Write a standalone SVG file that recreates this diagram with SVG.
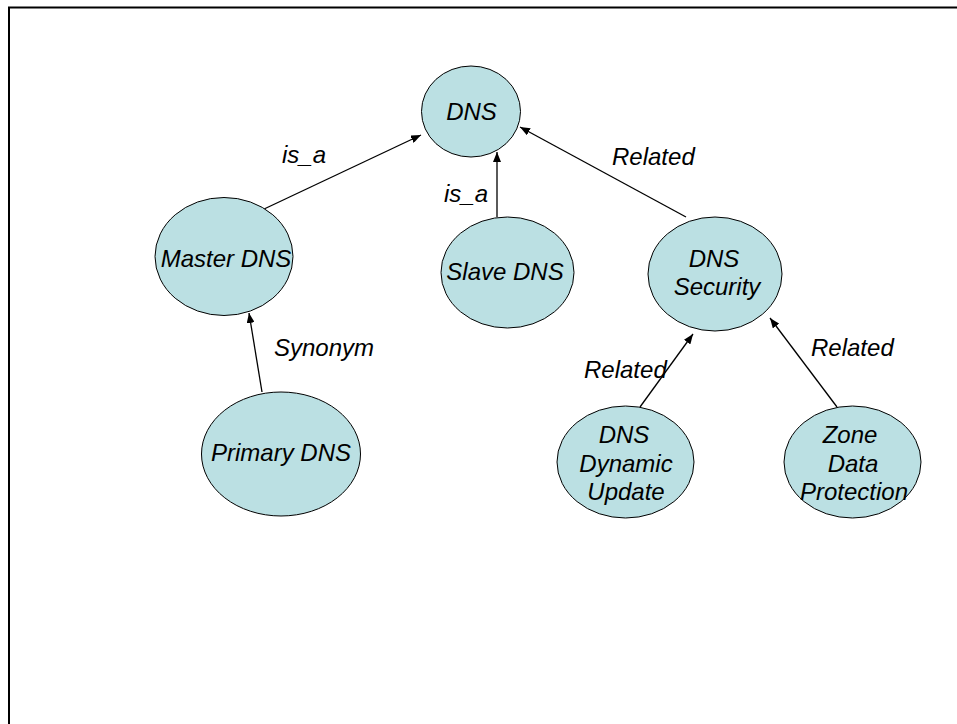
<svg xmlns="http://www.w3.org/2000/svg" width="957" height="724" viewBox="0 0 957 724">
  <defs>
    <marker id="arrow" viewBox="0 0 10 8" refX="10" refY="4" markerWidth="10" markerHeight="8" markerUnits="userSpaceOnUse" orient="auto">
      <path d="M0,0 L10,4 L0,8 Z" fill="#000"/>
    </marker>
    <style>
      .node ellipse { fill: #BBE0E3; stroke: #000; stroke-width: 1; }
      .node text, .label { font-family: "Liberation Sans", Arial, sans-serif; font-style: italic; font-size: 24px; fill: #000; }
      .node text { text-anchor: middle; }
      .edge { stroke: #000; stroke-width: 1.3; fill: none; marker-end: url(#arrow); }
    </style>
  </defs>

  <rect width="957" height="724" fill="#fff"/>
  <!-- frame: top and left edges -->
  <path d="M9,724 V7.5 H957" fill="none" stroke="#000" stroke-width="2"/>

  <g id="connectors">
    <line class="edge" x1="262" y1="210" x2="421" y2="135"/>
    <line class="edge" x1="497" y1="217" x2="497" y2="152"/>
    <line class="edge" x1="686" y1="217" x2="520" y2="127"/>
    <line class="edge" x1="262" y1="392" x2="249" y2="313"/>
    <line class="edge" x1="640" y1="407" x2="693" y2="334"/>
    <line class="edge" x1="837" y1="407" x2="770" y2="318"/>
    <text class="label" x="282" y="163">is_a</text>
    <text class="label" x="444" y="202">is_a</text>
    <text class="label" x="612" y="165">Related</text>
    <text class="label" x="274" y="356">Synonym</text>
    <text class="label" x="584" y="378">Related</text>
    <text class="label" x="811" y="356">Related</text>
  </g>

  <g id="dns" class="node">
    <ellipse cx="471" cy="111.5" rx="49.5" ry="45.5"/>
    <text x="471.5" y="120">DNS</text>
  </g>
  <g id="master-dns" class="node">
    <ellipse cx="224" cy="256.5" rx="69" ry="59"/>
    <text x="226" y="267">Master DNS</text>
  </g>
  <g id="slave-dns" class="node">
    <ellipse cx="507.5" cy="272.5" rx="66.5" ry="55.5"/>
    <text x="505" y="280">Slave DNS</text>
  </g>
  <g id="dns-security" class="node">
    <ellipse cx="715" cy="274" rx="67" ry="57"/>
    <text x="714" y="267">DNS</text>
    <text x="717" y="295">Security</text>
  </g>
  <g id="primary-dns" class="node">
    <ellipse cx="281" cy="454" rx="79.5" ry="62"/>
    <text x="281" y="461">Primary DNS</text>
  </g>
  <g id="dns-dynamic-update" class="node">
    <ellipse cx="625.5" cy="462" rx="68.5" ry="56"/>
    <text x="624" y="443">DNS</text>
    <text x="626" y="472">Dynamic</text>
    <text x="626" y="500">Update</text>
  </g>
  <g id="zone-data-protection" class="node">
    <ellipse cx="852.5" cy="462" rx="68.5" ry="56"/>
    <text x="850" y="443">Zone</text>
    <text x="853" y="472">Data</text>
    <text x="854" y="500">Protection</text>
  </g>
</svg>
